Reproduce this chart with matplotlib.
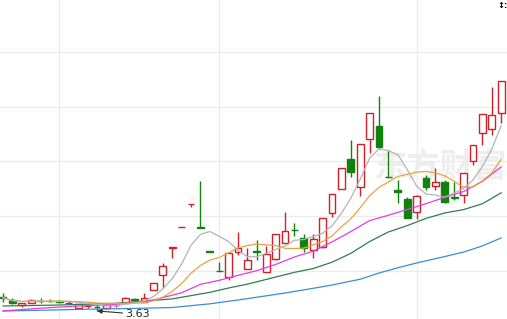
import numpy as np
import pandas as pd
import matplotlib
matplotlib.use('Agg')
import matplotlib.pyplot as plt

plt.rcParams['font.family'] = ['DejaVu Sans', 'Noto Sans CJK SC']

# daily candles
opens = [3.76, 3.73, 3.68, 3.70, 3.725, 3.725, 3.72, 3.70, 3.66, 3.675,
         3.67, 3.66, 3.68, 3.70, 3.735, 3.71, 3.82, 3.96, 4.21, 4.398,
         4.608, 4.395, 4.175, 4.00, 3.94, 4.17, 4.01, 4.175, 3.99, 4.105,
         4.25, 4.375, 4.30, 4.19, 4.215, 4.525, 4.746, 5.02, 4.765, 5.20,
         5.32, 4.86, 4.737, 4.655, 4.535, 4.845, 4.775, 4.81, 4.67, 4.69,
         5.00, 5.26, 5.295, 5.44]
highs = [3.79, 3.75, 3.70, 3.74, 3.75, 3.74, 3.73, 3.72, 3.69, 3.69,
         3.70, 3.69, 3.70, 3.76, 3.75, 3.79, 3.89, 4.07, 4.215, 4.40,
         4.61, 4.82, 4.175, 4.08, 4.16, 4.35, 4.21, 4.28, 4.22, 4.335,
         4.535, 4.435, 4.33, 4.33, 4.48, 4.70, 4.94, 5.195, 5.16, 5.44,
         5.60, 5.095, 4.83, 4.67, 4.69, 4.875, 4.94, 4.83, 4.81, 4.89,
         5.15, 5.43, 5.68, 5.735]
lows = [3.71, 3.69, 3.67, 3.70, 3.70, 3.71, 3.70, 3.69, 3.65, 3.66,
        3.63, 3.65, 3.67, 3.70, 3.72, 3.71, 3.82, 3.84, 4.11, 4.398,
        4.58, 4.39, 4.17, 3.995, 3.91, 4.14, 4.01, 4.10, 3.99, 4.10,
        4.25, 4.315, 4.17, 4.115, 4.205, 4.49, 4.746, 4.855, 4.68, 5.075,
        5.11, 4.855, 4.62, 4.48, 4.47, 4.735, 4.735, 4.62, 4.645, 4.62,
        4.965, 5.15, 5.24, 5.35]
closes = [3.75, 3.70, 3.70, 3.73, 3.72, 3.72, 3.715, 3.705, 3.69, 3.675,
          3.665, 3.68, 3.685, 3.75, 3.73, 3.75, 3.89, 4.04, 4.215, 4.40,
          4.61, 4.39, 4.17, 3.995, 4.16, 4.205, 4.10, 4.17, 4.15, 4.335,
          4.36, 4.37, 4.205, 4.29, 4.48, 4.70, 4.94, 4.90, 5.16, 5.44,
          5.13, 4.855, 4.72, 4.48, 4.68, 4.765, 4.81, 4.625, 4.665, 4.89,
          5.15, 5.43, 5.42, 5.735]

ma20_idx = [0, 4, 8, 12, 16, 19, 21, 23, 25, 27, 29, 31, 33, 35, 37, 39,
            41, 43, 45, 47, 49, 51, 53]
ma20_val = [3.63, 3.655, 3.675, 3.69, 3.73, 3.796, 3.873, 3.910, 3.956, 3.999,
            4.055, 4.124, 4.177, 4.262, 4.357, 4.457, 4.506, 4.558, 4.612,
            4.670, 4.723, 4.816, 4.949]
ma30_idx = [0, 6, 12, 18, 22, 24, 26, 29, 31, 33, 35, 37, 39, 41, 43, 45,
            47, 49, 51, 53]
ma30_val = [3.675, 3.684, 3.70, 3.74, 3.80, 3.84, 3.875, 3.94, 3.983, 4.018,
            4.076, 4.157, 4.265, 4.353, 4.411, 4.477, 4.527, 4.558, 4.611, 4.711]
ma60_idx = [0, 5, 10, 14, 18, 22, 25, 28, 30, 33, 35, 38, 40, 42, 44, 47,
            49, 51, 53]
ma60_val = [3.629, 3.638, 3.647, 3.653, 3.661, 3.695, 3.73, 3.768, 3.794,
            3.837, 3.867, 3.92, 3.977, 4.025, 4.069, 4.128, 4.169, 4.225, 4.298]

low_label = '3.63'
low_idx = 10

RED = '#d0202a'
GREEN = '#12820f'

fig = plt.figure(figsize=(5.07, 3.19), dpi=100)
ax = fig.add_axes([0, 0, 1, 1])
ax.set_xlim(-0.32, 53.62)
ax.set_ylim(3.556, 6.477)
for s in ax.spines.values():
    s.set_visible(False)
ax.set_xticks([])
ax.set_yticks([])

for y in [4.0, 4.5, 5.0, 5.5, 6.0]:
    ax.axhline(y, color='#ebebeb', lw=0.9, zorder=0)
for x in [6, 23, 44]:
    ax.axvline(x, color='#ebebeb', lw=0.9, zorder=0)

ax.text(373 / 507, 1 - 168 / 319, '东方财富', transform=ax.transAxes,
        family=['Noto Sans CJK SC'], fontsize=24, fontweight='bold',
        color='#eeeeee', ha='left', va='center', zorder=1)

o = np.array(opens)
c = np.array(closes)
h = np.array(highs)
l = np.array(lows)
x = np.arange(len(o))
up = c >= o
cols = np.where(up, RED, GREEN)

ax.vlines(x, l, h, colors=cols, lw=1.0, zorder=2)
body_h = np.maximum(np.abs(c - o), 0.002)
body_b = np.minimum(o, c)
ax.bar(x[up], body_h[up], bottom=body_b[up], width=0.72,
       facecolor='white', edgecolor=RED, linewidth=1.0, zorder=3)
ax.bar(x[~up], body_h[~up], bottom=body_b[~up], width=0.72,
       facecolor=GREEN, edgecolor=GREEN, linewidth=1.0, zorder=3)

cs = pd.Series(closes)
ma5 = cs.rolling(5, min_periods=1).mean()
ma10 = cs.rolling(10, min_periods=1).mean()

ax.plot(ma60_idx, ma60_val, color='#3a8ed4', lw=0.9, zorder=4)
ax.plot(ma30_idx, ma30_val, color='#2f7d4f', lw=0.9, zorder=4)
ax.plot(ma20_idx, ma20_val, color='#e43de4', lw=0.9, zorder=4)
ax.plot(x, ma10, color='#e9a43c', lw=0.9, zorder=4)
ax.plot(x, ma5, color='#b4b4b4', lw=0.9, zorder=4)

ax.annotate(low_label, xy=(low_idx, lows[low_idx]), xytext=(13.0, 3.60),
            fontsize=8, color='#222222', ha='left', va='center',
            arrowprops=dict(arrowstyle='-|>', color='#333333', lw=0.8,
                            mutation_scale=7, shrinkA=0, shrinkB=0),
            zorder=5)

ax.text(497 / 507, 1 - 6 / 319, '↕:', transform=ax.transAxes,
        fontsize=6, fontweight='bold', color='black', ha='left', va='center')

fig.savefig('out.png', dpi=100)
